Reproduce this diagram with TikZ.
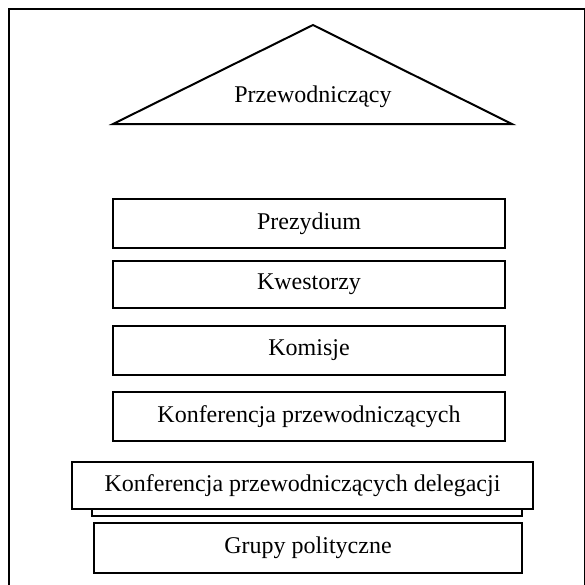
\documentclass[tikz,border=0pt]{standalone}
\usepackage{fontspec}
\setmainfont{Liberation Serif}
\begin{document}
\begin{tikzpicture}[x=0.5pt,y=-0.5pt,
  boxstyle/.style={draw=black,line width=1pt,fill=white,rectangle,inner sep=0pt,font=\fontsize{12}{14}\selectfont},
  labelstyle/.style={inner sep=0pt,font=\fontsize{12}{14}\selectfont}]
\clip (0,0) rectangle (585,585);
\useasboundingbox (0,0) rectangle (585,585);
\fill[white] (0,0) rectangle (585,585);
% frame
\draw[line width=1pt] (9,592) -- (9,9) -- (584.5,9) -- (584.5,592);
% triangle
\coordinate (apex) at (313,25);
\coordinate (bl) at (113,124);
\coordinate (br) at (512,124);
\draw[line width=1pt,line join=miter] (bl) -- (apex) -- (br) -- cycle;
\node[labelstyle] (przew) at (313,97) {Przewodniczący};
% boxes
\node[boxstyle,minimum width=196pt,minimum height=24.5pt] (prez) at (309,223.5) {Prezydium};
\node[boxstyle,minimum width=196pt,minimum height=23.5pt] (kwes) at (309,284.5) {Kwestorzy};
\node[boxstyle,minimum width=196pt,minimum height=24.5pt] (kom) at (309,350.5) {Komisje};
\node[boxstyle,minimum width=196pt,minimum height=24.5pt] (konf) at (309,416.5) {Konferencja przewodniczących};
\node[boxstyle,minimum width=215pt,minimum height=8pt] (under) at (307,508) {};
\node[boxstyle,minimum width=230.5pt,minimum height=23.5pt] (deleg) at (302.5,485.5) {Konferencja przewodniczących delegacji};
\node[boxstyle,minimum width=214pt,minimum height=25pt] (grupy) at (308,548) {Grupy polityczne};
\end{tikzpicture}
\end{document}
